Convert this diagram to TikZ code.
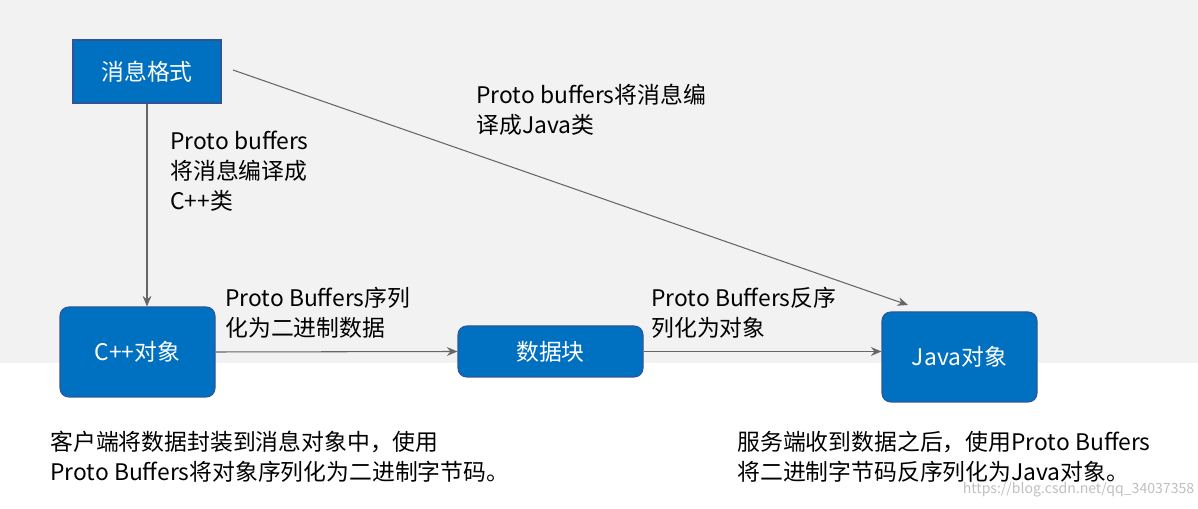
\documentclass[tikz,border=0pt]{standalone}
\usepackage{fontspec}
\setmainfont{Noto Sans CJK SC}
\usetikzlibrary{arrows.meta}
\definecolor{boxblue}{HTML}{0070C0}
\definecolor{boxedge}{HTML}{2F5597}
\definecolor{bggray}{HTML}{F2F2F2}
\tikzset{
    box/.style={draw=boxedge, fill=boxblue, text=white, line width=0.6pt, font=\fontsize{13}{15}\selectfont},
    flow/.style={-{Stealth[length=6pt,width=5pt]}, draw=gray!80!black, line width=0.6pt},
    note/.style={anchor=north west, align=left, inner sep=0pt, font=\fontsize{13}{17}\selectfont}
}
\begin{document}
\begin{tikzpicture}[x=0.02cm, y=-0.02cm]
    % Background
    \useasboundingbox (0,0) rectangle (1198,509);
    \fill[bggray] (0,0) rectangle (1198,363);

    % Boxes
    \node[box, minimum width=148*0.02cm, minimum height=63*0.02cm] (msg) at (147,71.5) {消息格式};
    \node[box, rounded corners=5pt, minimum width=155*0.02cm, minimum height=90*0.02cm] (cpp) at (137.5,352) {C++对象};
    \node[box, rounded corners=5pt, minimum width=185*0.02cm, minimum height=51*0.02cm] (blk) at (550.5,351.5) {数据块};
    \node[box, rounded corners=5pt, minimum width=155*0.02cm, minimum height=90*0.02cm] (java) at (959.5,357) {Java对象};

    % Arrows
    \coordinate (msgtop) at (233,70);
    \coordinate (javatop) at (908,305);
    \draw[flow] (msg.south) -- (msg.south |- cpp.north);
    \draw[flow] (msgtop) -- (javatop);
    \draw[flow] (cpp.east) -- (blk.west);
    \draw[flow] (blk.east) -- (java.west |- blk.east);

    % Arrow labels
    \node[note] (lcpp) at (170,131) {Proto buffers\\将消息编译成\\C++类};
    \node[note] (ljava) at (476,84) {Proto buffers将消息编\\译成Java类};
    \node[note] (lser) at (225,287) {Proto Buffers序列\\化为二进制数据};
    \node[note] (ldes) at (651,287) {Proto Buffers反序\\列化为对象};

    % Descriptions
    \node[note] (dleft) at (50,431) {客户端将数据封装到消息对象中，使用\\Proto Buffers将对象序列化为二进制字节码。};
    \node[note] (dright) at (737,431) {服务端收到数据之后，使用Proto Buffers\\将二进制字节码反序列化为Java对象。};
    \node[anchor=south east, inner sep=2pt, text=gray!50, font=\fontsize{8}{9}\selectfont] (mark) at (1198,501) {https://blog.csdn.net/qq\_34037358};
\end{tikzpicture}
\end{document}
